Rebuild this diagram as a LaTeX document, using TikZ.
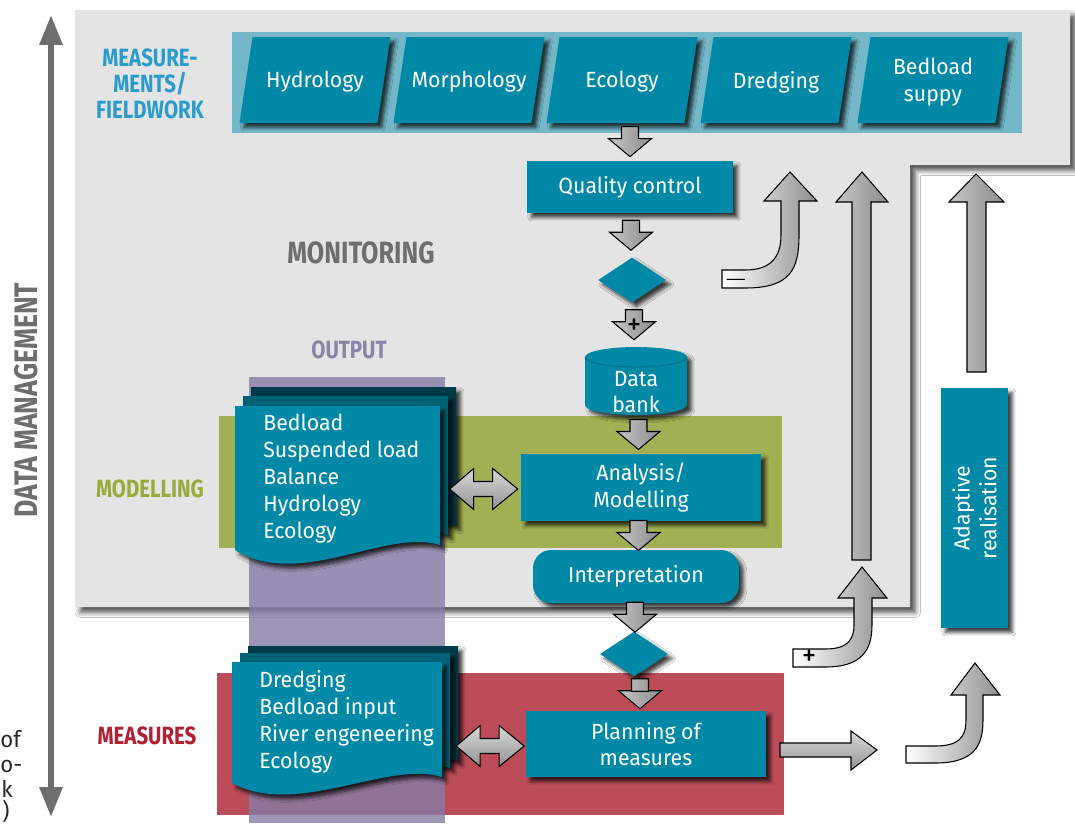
\documentclass[tikz,border=0pt]{standalone}
\usepackage{fontspec}
\setmainfont{Fira Sans}[FakeStretch=0.97]
\newfontfamily\headfont{Fira Sans}[FakeStretch=0.82]
\usetikzlibrary{calc,shapes.geometric,shadows.blur,arrows.meta}

\definecolor{boxteal}{RGB}{0,137,167}
\definecolor{stripteal}{RGB}{116,183,200}
\definecolor{panelgray}{RGB}{228,228,228}
\definecolor{modelgreen}{RGB}{160,176,82}
\definecolor{measred}{RGB}{189,76,89}
\definecolor{outpurple}{RGB}{134,124,166}
\definecolor{docmid}{RGB}{0,96,116}
\definecolor{docdark}{RGB}{0,58,72}
\definecolor{headblue}{RGB}{42,155,205}
\definecolor{headgreen}{RGB}{152,170,58}
\definecolor{headred}{RGB}{178,32,50}
\definecolor{headgray}{RGB}{110,110,110}
\definecolor{headpurple}{RGB}{137,131,166}

\begin{document}
\begin{tikzpicture}[x=0.02cm,y=-0.02cm]

    \tikzset{
      shade/.style={blur shadow={shadow xshift=2.5pt,shadow yshift=-2.5pt,
          shadow blur radius=2pt,shadow opacity=75}},
      boxtext/.style={text=white,align=center,inner sep=0pt,
        font=\fontsize{12.5}{15.3}\selectfont},
      box/.style={boxtext,fill=boxteal,shade},
      decision/.style={diamond,fill=boxteal,inner sep=0pt,
        minimum width=1.36cm,minimum height=0.9cm,shade},
      heading/.style={align=center,inner sep=0pt,
        font=\headfont\bfseries\fontsize{14.2}{14.7}\selectfont},
      sign/.style={inner sep=0pt,font=\fontsize{17}{17}\selectfont},
      varrow/.style={draw=black,line width=0.6pt,left color=gray!45,right color=gray!90},
      harrow/.style={draw=black,line width=0.6pt,top color=gray!30,bottom color=gray!85},
      jarrow/.style={draw=black,line width=0.6pt,left color=white,right color=gray!88},
      downarrow/.pic={
        \draw[varrow] (-8.5,-15) -- (8.5,-15) -- (8.5,-3) -- (21.5,-3) -- (0,15)
          -- (-21.5,-3) -- (-8.5,-3) -- cycle;
      },
      bothways/.pic={
        \draw[harrow] (-34,0) -- (-10,-20.5) -- (-10,-7.5) -- (9,-7.5) -- (9,-20.5)
          -- (34,0) -- (9,20.5) -- (9,7.5) -- (-10,7.5) -- (-10,20.5) -- cycle;
      },
    }
    \useasboundingbox (0,0) rectangle (1075,823);
    \fill[white] (0,0) rectangle (1075,823);

    % data management axis
    \coordinate (dmtop) at (51,15);
    \coordinate (dmbot) at (51,817);
    \draw[headgray,line width=3.4pt,
      {Triangle[width=12.5pt,length=17pt]}-{Triangle[width=12.5pt,length=17pt]}]
      (dmbot) -- (dmtop);
    \node[heading,text=headgray,rotate=90,font=\headfont\bfseries\fontsize{18.5}{19}\selectfont]
      (dm) at (26,400) {DATA MANAGEMENT};

    % monitoring panel
    \fill[panelgray,blur shadow={shadow xshift=3pt,shadow yshift=-3pt,
        shadow blur radius=3pt,shadow opacity=70}]
      (75,10) -- (1070,10) -- (1070,165) -- (910,165) -- (910,607) -- (75,607) -- cycle;

    \node[heading,text=headblue] (fieldlabel) at (150,84) {MEASURE-\\MENTS/\\FIELDWORK};
    \node[heading,text=headgray,font=\headfont\bfseries\fontsize{17.5}{18}\selectfont]
      (monlabel) at (361,253) {MONITORING};
    \node[heading,text=headpurple,font=\headfont\bfseries\fontsize{14.2}{15}\selectfont]
      (outlabel) at (349,350) {OUTPUT};
    \node[heading,text=headgreen] (modlabel) at (150,489) {MODELLING};
    \node[heading,text=headred] (measlabel) at (147,736) {MEASURES};

    % bands
    \fill[modelgreen] (219,416) rectangle (782,548);
    \fill[measred] (217,673) rectangle (784,815);
    \fill[outpurple,opacity=0.8] (249,377) rectangle (445,823);

    % fieldwork strip
    \node[fill=stripteal,minimum width=15.8cm,minimum height=2.02cm,inner sep=0pt]
      (strip) at (627,82.5) {};
    \foreach \cx/\nm/\txt in {315/hydro/Hydrology,469/morpho/Morphology,622/eco/Ecology,
        776/dredge/Dredging,933/supply/{Bedload\\suppy}}{
      \fill[box] (\cx-62.5,37) -- (\cx+75.5,37) -- (\cx+62.5,123) -- (\cx-75.5,123) -- cycle;
      \node[boxtext] (\nm) at (\cx,82) {\txt};
    }

    % main chain
    \node[box,minimum width=4.12cm,minimum height=1.04cm] (qc) at (630,187) {Quality control};
    \node[decision] (dec1) at (632,280) {};
    % data bank drum
    \fill[boxteal,shade] (585,357) -- (585,405)
      .. controls (585,410.5) and (607.8,415) .. (636,415)
      .. controls (664.2,415) and (687,410.5) .. (687,405) -- (687,357)
      .. controls (687,351.5) and (664.2,347) .. (636,347)
      .. controls (607.8,347) and (585,351.5) .. (585,357) -- cycle;
    \draw[boxteal!80!black,line width=0.5pt] (585,357)
      .. controls (585,362.5) and (607.8,367) .. (636,367)
      .. controls (664.2,367) and (687,362.5) .. (687,357);
    \node[inner sep=0pt,minimum width=2.04cm,minimum height=1.36cm] (bank) at (636,381) {};
    \node[boxtext] (banktext) at ($(bank.center)+(0,11)$) {Data\\bank};
    \node[box,minimum width=4.8cm,minimum height=1.34cm] (ana) at (641,487.5) {Analysis/\\Modelling};
    \node[box,rounded corners=0.36cm,minimum width=4.12cm,minimum height=1.06cm]
      (interp) at (636,576.5) {Interpretation};
    \node[decision] (dec2) at (634,654) {};
    \node[box,minimum width=4.8cm,minimum height=1.32cm] (plan) at (646,744) {Planning of\\measures};

    \pic at ($(qc.north)+(0,-19)$) {downarrow};
    \pic at ($(qc.south)!.5!(dec1.north)$) {downarrow};
    \pic at ($(dec1.south)!.5!(bank.north)$) {downarrow};
    \node[sign] (plusa) at ($(dec1.south)!.5!(bank.north)+(0,2)$) {+};
    \pic at ($(bank.south)!.5!(ana.north)$) {downarrow};
    \pic at ($(ana.south)!.5!(interp.north)$) {downarrow};
    \pic at ($(interp.south)!.5!(dec2.north)$) {downarrow};
    \pic at ($(dec2.south)!.5!(plan.north)$) {downarrow};
    \node[sign] (minusa) at ($(dec2.south)!.5!(plan.north)+(0,-2)$) {$-$};

    % output documents
    \foreach \dx/\dy/\col in {16/-19/docdark,8/-10/docmid,0/0/boxteal}{
      \fill[\col,shade] ($(235,406)+(\dx,\dy)$) -- ($(440,406)+(\dx,\dy)$)
        -- ($(440,545)+(\dx,\dy)$) .. controls ($(385,528)+(\dx,\dy)$)
        and ($(300,590)+(\dx,\dy)$) .. ($(235,550)+(\dx,\dy)$) -- cycle;
    }
    \node[boxtext,align=left,anchor=north west] (outlist) at (263,414)
      {Bedload\\Suspended load\\Balance\\Hydrology\\Ecology};

    % measure documents
    \foreach \dx/\dy/\col in {16/-16/docdark,8/-9/docmid,0/0/boxteal}{
      \fill[\col,shade] ($(232,662)+(\dx,\dy)$) -- ($(442,662)+(\dx,\dy)$)
        -- ($(442,777)+(\dx,\dy)$) .. controls ($(387,760)+(\dx,\dy)$)
        and ($(297,818)+(\dx,\dy)$) .. ($(232,783)+(\dx,\dy)$) -- cycle;
    }
    \node[boxtext,align=left,anchor=north west] (measlist) at (259,670)
      {Dredging\\Bedload input\\River engeneering\\Ecology};

    \pic at ($(ana.west)+(-37,1.5)$) {bothways};
    \pic at ($(plan.west)+(-35.5,2)$) {bothways};

    % feedback arrows
    \draw[jarrow] (722,288) -- (745,288) .. controls (790,288) and (799,270) .. (799,235)
      -- (799,201) -- (817,201) -- (790,172) -- (764,201) -- (781,201) -- (781,235)
      .. controls (781,258) and (770,270) .. (745,270) -- (722,270) -- cycle;
    \node[sign] (minusb) at (736,280) {$-$};
    \draw[jarrow] (793,667) -- (825,667) .. controls (862,667) and (872,650) .. (872,625)
      -- (872,598) -- (887,598) -- (862,567) -- (838,598) -- (854,598) -- (854,625)
      .. controls (854,642) and (845,649) .. (825,649) -- (793,649) -- cycle;
    \node[sign] (plusb) at (809,658) {+};
    \draw[varrow] (852,560) -- (871,560) -- (871,202) -- (888,202) -- (862,172)
      -- (836,202) -- (852,202) -- cycle;

    % adaptive realisation
    \node[box,minimum width=1.34cm,minimum height=4.8cm] (adapt) at (974.5,508) {};
    \node[boxtext,rotate=90] (adapttext) at (adapt.center) {Adaptive\\realisation};
    \draw[varrow] (967,372) -- (986,372) -- (986,202) -- (1004,202) -- (976,174)
      -- (949,202) -- (967,202) -- cycle;
    \draw[harrow] (780,743) -- (851,743) -- (851,731) -- (877,750) -- (851,770)
      -- (851,757) -- (780,757) -- cycle;
    \draw[jarrow] (906,763) -- (935,763) .. controls (975,763) and (983,745) .. (983,720)
      -- (983,695) -- (1000,695) -- (975,663) -- (951,695) -- (966,695) -- (966,720)
      .. controls (966,738) and (958,746) .. (935,746) -- (906,746) -- cycle;

    % caption text running in from the left
    \node[anchor=base west,inner sep=0pt,text=black!85,font=\fontsize{13}{16}\selectfont]
      (capa) at (0,747) {of};
    \node[anchor=base west,inner sep=0pt,text=black!85,font=\fontsize{13}{16}\selectfont]
      (capb) at (0,772) {o-};
    \node[anchor=base west,inner sep=0pt,text=black!85,font=\fontsize{13}{16}\selectfont]
      (capc) at (1,797) {k};
    \node[anchor=base west,inner sep=0pt,text=black!85,font=\fontsize{13}{16}\selectfont]
      (capd) at (2,819) {)};

\end{tikzpicture}
\end{document}
